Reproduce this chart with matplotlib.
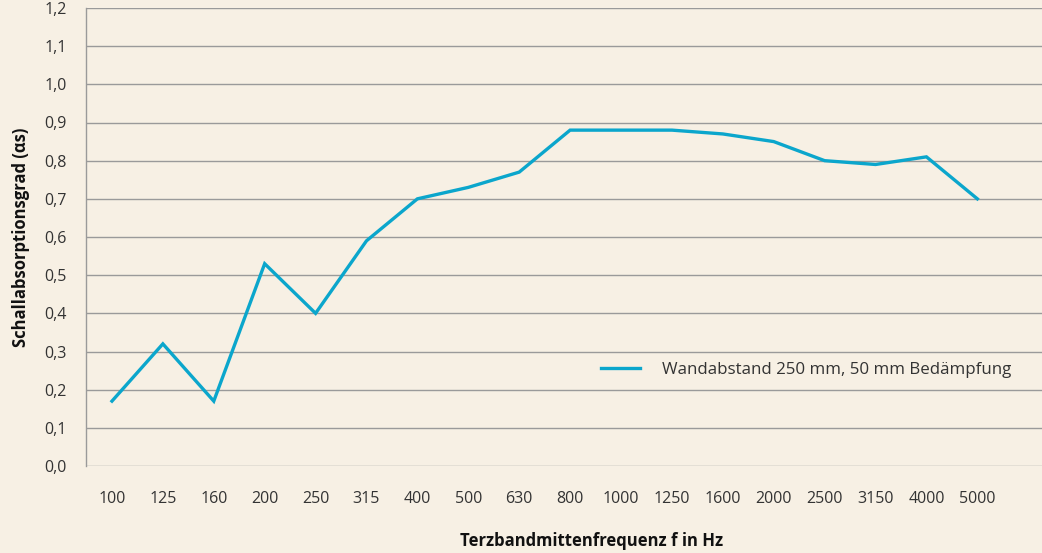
import numpy as np
import matplotlib.pyplot as plt

freqs = ["100", "125", "160", "200", "250", "315", "400", "500", "630",
         "800", "1000", "1250", "1600", "2000", "2500", "3150", "4000", "5000"]
alpha = [0.17, 0.32, 0.17, 0.53, 0.40, 0.59, 0.70, 0.73, 0.77,
         0.88, 0.88, 0.88, 0.87, 0.85, 0.80, 0.79, 0.81, 0.70]
yticks = np.arange(0, 13) / 10
ylabels = ["{:.1f}".format(v).replace(".", ",") for v in yticks]

plt.rcParams['font.family'] = ['Open Sans', 'DejaVu Sans']

bg = "#f7f0e4"
fig = plt.figure(figsize=(10.42, 5.53), dpi=100, facecolor=bg)
ax = fig.add_axes([86 / 1042, 1 - 466 / 553, 1 - 86 / 1042, (466 - 8) / 553])
ax.set_facecolor(bg)

x = np.arange(len(freqs))
ax.plot(x, alpha, color="#0ba6cc", lw=2.4, solid_joinstyle="miter",
        label="Wandabstand 250 mm, 50 mm Bedämpfung")

ax.set_xlim(-0.51, 18.27)
ax.set_ylim(0, 1.2)
ax.set_yticks(yticks)
ax.set_yticklabels(ylabels)
ax.set_xticks(x)
ax.set_xticklabels(freqs)
ax.tick_params(axis="both", length=0, labelsize=11.5, colors="#333333")
ax.tick_params(axis="x", pad=18)
ax.tick_params(axis="y", pad=14)

ax.grid(axis="y", color="#9a9a9a", lw=1.0)
ax.set_axisbelow(True)
for s in ["top", "right", "bottom"]:
    ax.spines[s].set_visible(False)
ax.spines["left"].set_color("#9a9a9a")
ax.spines["left"].set_linewidth(1.0)

ax.set_ylabel("Schallabsorptionsgrad (αs)", fontsize=12, fontweight="bold",
              color="#111111", labelpad=10)
fig.text(592 / 1042, 1 - 541 / 553, "Terzbandmittenfrequenz f in Hz",
         fontsize=12, fontweight="bold", color="#111111", ha="center", va="center")

ax.legend(loc="center left", bbox_to_anchor=(586 / 1042, 1 - 370 / 553),
          bbox_transform=fig.transFigure, frameon=False, fontsize=12.2,
          handlelength=2.3, handletextpad=1.3, labelcolor="#333333")

fig.savefig("out.png", dpi=100, facecolor=bg)
